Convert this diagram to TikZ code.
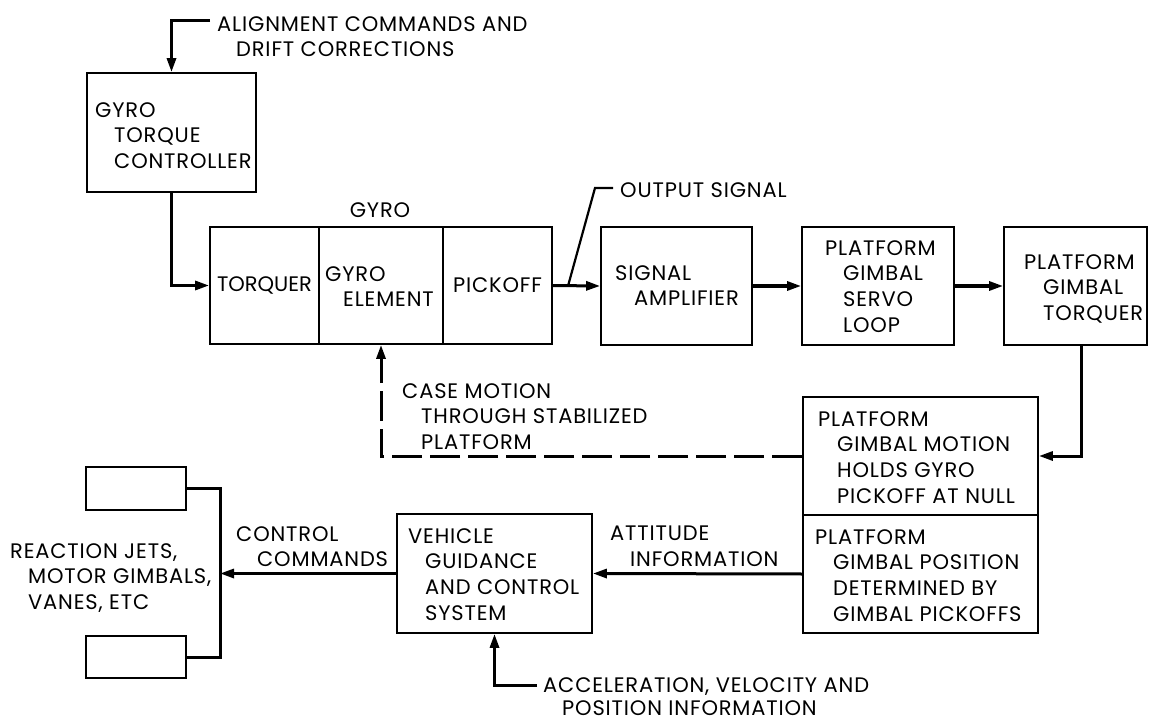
\documentclass[tikz,border=0pt]{standalone}
\usepackage{fontspec}
\setmainfont{Poppins}[LetterSpace=4]
\usetikzlibrary{arrows.meta,calc}
\newcommand\dlabelfont{\fontsize{21}{25.7}\selectfont}
\begin{document}
\begin{tikzpicture}[x=1pt,y=-1pt,
  box/.style={draw, line width=1.8pt, inner sep=0pt, font=\dlabelfont},
  txt/.style={inner sep=0pt, anchor=north west, align=left, font=\dlabelfont},
  conn/.style={line width=3pt, -{Triangle[length=14pt,width=9pt]}},
  lead/.style={line width=3pt},
  thinlead/.style={line width=2.2pt},
  dashedconn/.style={conn, dash pattern=on 30pt off 8pt},
]
\useasboundingbox (0,0) rectangle (1149,722);

% boxes
\node[box, minimum width=169pt, minimum height=119pt] (gtc) at (171.5,132.5) {};
\node[box, minimum width=109pt, minimum height=117pt] (torq) at (264.5,285.5) {\addfontfeature{LetterSpace=0}TORQUER};
\node[box, minimum width=124pt, minimum height=117pt] (elem) at (381,285.5) {};
\node[box, minimum width=109pt, minimum height=117pt] (pick) at (497.5,285.5) {PICKOFF};
\node[box, minimum width=151pt, minimum height=118pt] (amp) at (676.5,286) {};
\node[box, minimum width=152pt, minimum height=118pt] (servo) at (878,286) {};
\node[box, minimum width=143pt, minimum height=118pt] (ptorq) at (1075.5,286) {};
\node[box, minimum width=235pt, minimum height=118pt] (motion) at (920.5,456) {};
\node[box, minimum width=235pt, minimum height=118pt] (posn) at (920.5,574) {};
\node[box, minimum width=195pt, minimum height=119pt] (veh) at (494.5,573.5) {};
\node[box, minimum width=100pt, minimum height=43pt] (act1) at (136,488.5) {};
\node[box, minimum width=100pt, minimum height=42pt] (act2) at (136,657) {};

% texts
\node[txt] (alignt) at (217,16) {ALIGNMENT COMMANDS AND\\\hspace*{19pt}DRIFT CORRECTIONS};
\node[txt] (gtct) at (95,102) {GYRO\\\hspace*{19pt}TORQUE\\\hspace*{19pt}CONTROLLER};
\node[inner sep=0pt, font=\dlabelfont] (gyrol) at (380,210) {GYRO};
\node[txt] (elemt) at (325,266) {GYRO\\\hspace*{18pt}ELEMENT};
\node[txt] (ampt) at (615,265) {SIGNAL\\\hspace*{19pt}AMPLIFIER};
\node[txt] (servot) at (825,240) {PLATFORM\\\hspace*{18pt}GIMBAL\\\hspace*{18pt}SERVO\\\hspace*{18pt}LOOP};
\node[txt] (ptorqt) at (1024,254) {PLATFORM\\\hspace*{19pt}GIMBAL\\\hspace*{19pt}TORQUER};
\node[txt] (outt) at (620,182) {OUTPUT SIGNAL};
\node[txt] (caset) at (402,383) {CASE MOTION\\\hspace*{19pt}THROUGH STABILIZED\\\hspace*{19pt}PLATFORM};
\node[txt] (motiont) at (818,411) {PLATFORM\\\hspace*{19pt}GIMBAL MOTION\\\hspace*{19pt}HOLDS GYRO\\\hspace*{19pt}PICKOFF AT NULL};
\node[txt] (posnt) at (815,529) {PLATFORM\\\hspace*{18pt}GIMBAL POSITION\\\hspace*{18pt}DETERMINED BY\\\hspace*{18pt}GIMBAL PICKOFFS};
\node[txt] (attt) at (610,526) {ATTITUDE\\\hspace*{20pt}INFORMATION};
\node[txt] (veht) at (408,528) {VEHICLE\\\hspace*{17pt}GUIDANCE\\\hspace*{17pt}AND CONTROL\\\hspace*{17pt}SYSTEM};
\node[txt] (ctrlt) at (236,526) {CONTROL\\\hspace*{21pt}COMMANDS};
\node[txt] (reactt) at (10,543) {REACTION JETS,\\\hspace*{18pt}MOTOR GIMBALS,\\\hspace*{18pt}VANES, ETC};
\node[txt] (accelt) at (543,677) {ACCELERATION, VELOCITY AND\\[-2.7pt]\hspace*{19pt}POSITION INFORMATION};

% coordinates
\coordinate (alA) at (210,21);
\coordinate (os1) at (568,286);
\coordinate (os2) at (595,188);
\coordinate (os3) at (613,188);
\coordinate (pt) at (1081,345);
\coordinate (bx) at (220,573.5);
\coordinate (ac) at (537,685);

% connectors
\draw[conn] (alA) -| (gtc.north);
\draw[conn] (gtc.south) |- (torq.west);
\draw[conn] (pick.east) -- (amp.west);
\draw[conn] (amp.east) -- (servo.west);
\draw[conn] (servo.east) -- (ptorq.west);
\draw[conn] (pt) |- (motion.east);
\draw[dashedconn] (motion.west) -| (elem.south);
\draw[conn] (posn.west) -- (veh.east);
\draw[conn] (veh.west) -- (bx);
\draw[lead] (act1.east) -| (bx) |- (act2.east);
\draw[conn] (ac) -| (veh.south);
\draw[thinlead] (os1) -- (os2) -- (os3);
\end{tikzpicture}
\end{document}
